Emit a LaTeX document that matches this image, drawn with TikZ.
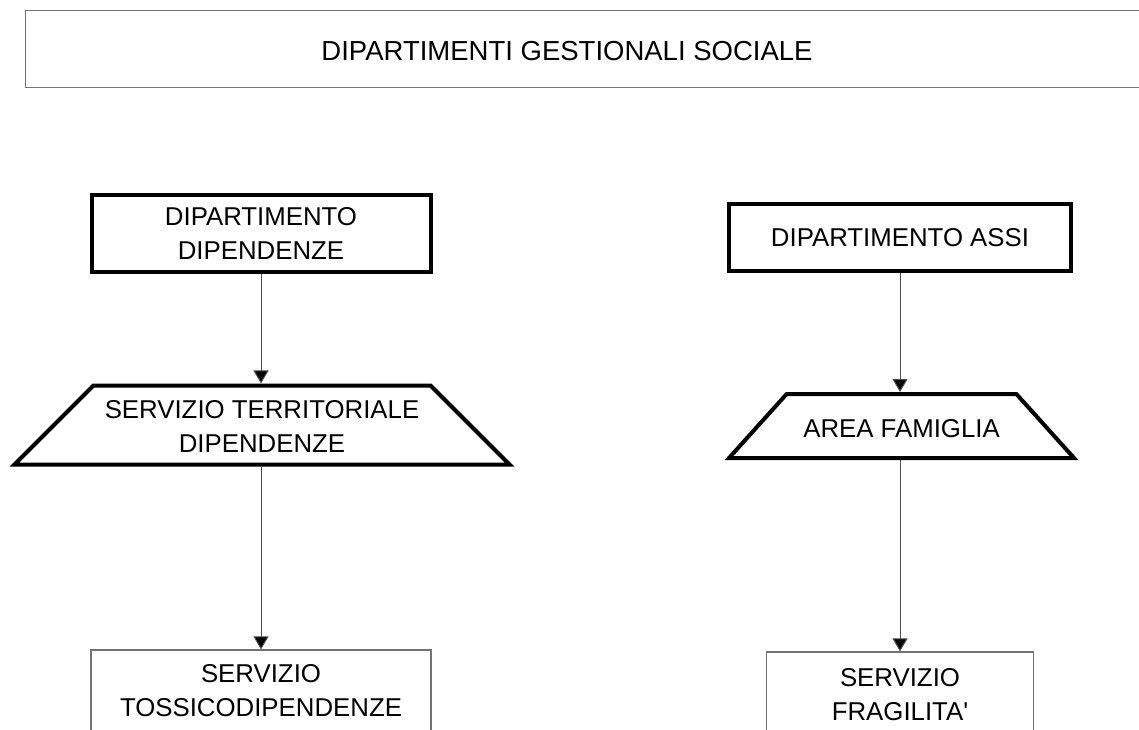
\documentclass[tikz,border=0pt]{standalone}
\usepackage{fontspec}
% a family of its own keeps the straight apostrophe
\newfontfamily\chartfont{Liberation Sans}
\usetikzlibrary{arrows.meta,shapes.geometric}
\begin{document}
\begin{tikzpicture}[x=1pt,y=-1pt,
  every node/.style={font=\chartfont\fontsize{25.8}{34}\selectfont, align=center},
  headbox/.style={draw=black, line width=4pt, rectangle, inner sep=0pt},
  servbox/.style={draw=black!55, line width=1.2pt, rectangle, inner sep=0pt},
  areabox/.style={draw=black, line width=4pt, trapezium, trapezium stretches body,
    inner xsep=4pt, inner ysep=0pt},
  frame/.style={draw=black!55, line width=1pt, rectangle, inner sep=0pt},
  link/.style={draw=black!70, line width=1pt, -{Triangle[width=15pt,length=13pt,fill=black]}}
]
\useasboundingbox (0,0) rectangle (1139,729);
\clip (0,0) rectangle (1139,729);

% heading frame, open towards the right margin
\node[frame, minimum width=1135, minimum height=77] (frm) at (592.5,48.5) {};
\node[font=\chartfont\fontsize{27.5}{33}\selectfont] (title) at (567,51)
  {DIPARTIMENTI GESTIONALI SOCIALE};

% left branch
\node[headbox, minimum width=339, minimum height=77] (dd) at (261,233.5)
  {DIPARTIMENTO\\DIPENDENZE};
% text height/depth fix the trapezium's height so its slopes keep their angles
\node[areabox, trapezium left angle=45, trapezium right angle=45,
  text height=67.4pt, text depth=11.6pt,
  minimum width=495] (std) at (262,425)
  {SERVIZIO TERRITORIALE\\DIPENDENZE};
\node[servbox, minimum width=340, minimum height=82] (st) at (261,691)
  {SERVIZIO\\TOSSICODIPENDENZE};

% right branch
\node[headbox, minimum width=342, minimum height=67] (da) at (900,237.5)
  {DIPARTIMENTO ASSI};
\node[areabox, trapezium left angle=48, trapezium right angle=48,
  text height=43.75pt, text depth=20.25pt,
  minimum width=345] (af) at (901.5,426)
  {AREA FAMIGLIA};
\node[servbox, minimum width=267, minimum height=86] (sf) at (900,695)
  {SERVIZIO\\FRAGILITA'};

% connectors, kept vertical under each box
\draw[link] (dd.south) -- (dd.south |- std.north);
\draw[link] (dd.south |- std.south) -- (dd.south |- st.north);
\draw[link] (da.south) -- (da.south |- af.north);
\draw[link] (da.south |- af.south) -- (da.south |- sf.north);
\end{tikzpicture}
\end{document}
